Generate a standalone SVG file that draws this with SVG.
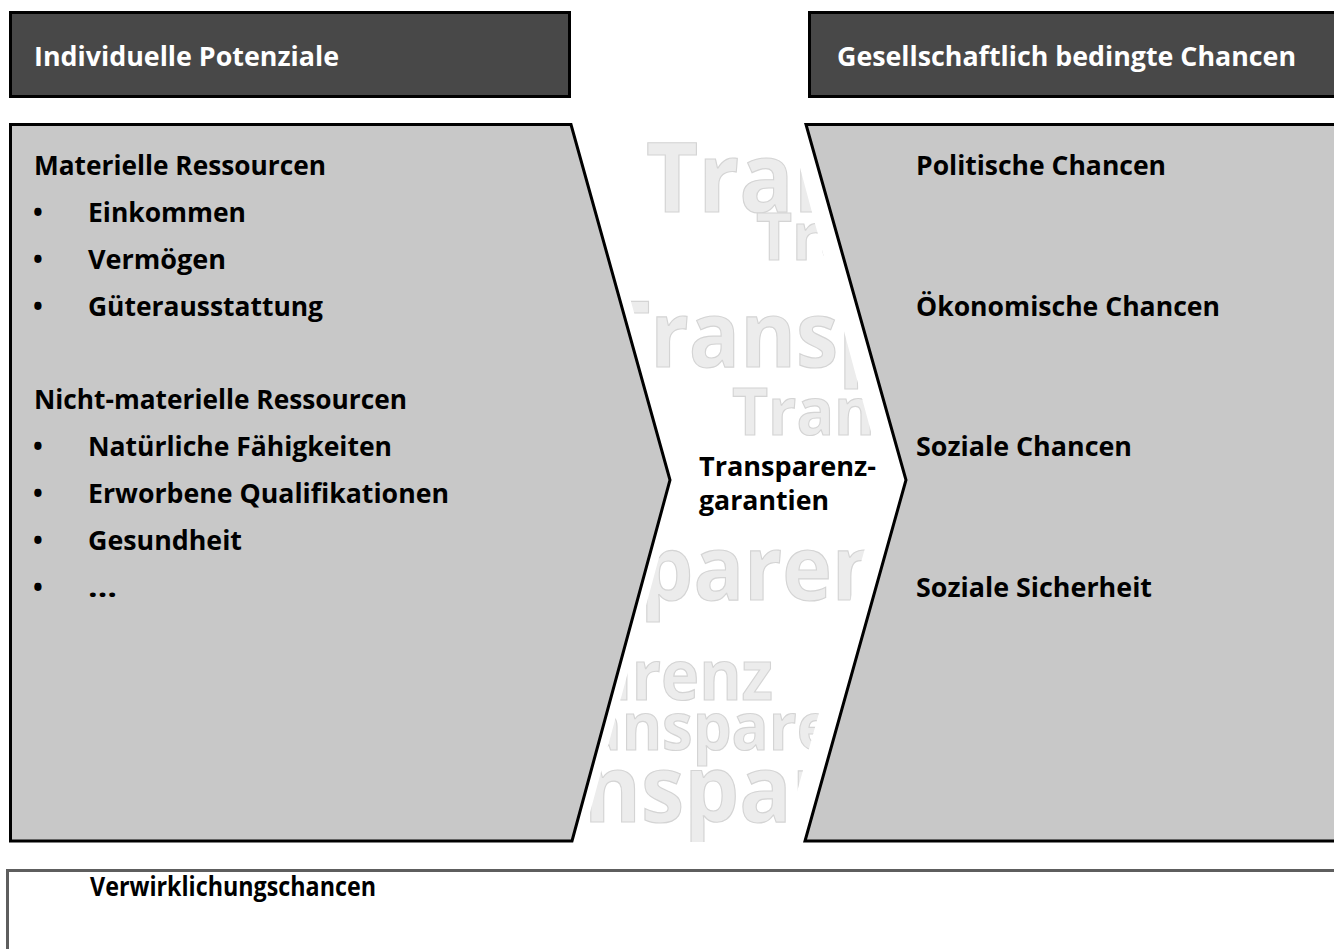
<svg xmlns="http://www.w3.org/2000/svg" width="1334" height="949" viewBox="0 0 1334 949">
<style>
.hdr{fill:#484848;stroke:#000;stroke-width:3}
.panel{fill:#c8c8c8;stroke:#000;stroke-width:3;stroke-linejoin:miter}
.t{font-family:"Open Sans","Noto Sans","Liberation Sans",sans-serif;font-weight:700;font-size:26px;fill:#000}
.w{fill:#fff}
.wm{font-family:"Open Sans","Noto Sans","Liberation Sans",sans-serif;font-weight:700;fill:#ececec;stroke:#d4d4d4;stroke-width:1.2}
</style>
<defs>
<clipPath id="wmclip">
<polygon points="582,123 788,123 884,480 783,842 582,842 680,480"/>
</clipPath>
</defs>
<rect width="1334" height="949" fill="#fff"/>
<g id="header-left">
<rect class="hdr" x="10.5" y="12.5" width="559" height="84"/>
<text class="t w" x="34" y="66" textLength="305" lengthAdjust="spacingAndGlyphs">Individuelle Potenziale</text>
</g>
<g id="header-right">
<rect class="hdr" x="809.5" y="12.5" width="600" height="84"/>
<text class="t w" x="837" y="66" textLength="459" lengthAdjust="spacingAndGlyphs">Gesellschaftlich bedingte Chancen</text>
</g>
<g id="watermark" clip-path="url(#wmclip)">
<text class="wm" font-size="97" x="646" y="212" textLength="207" lengthAdjust="spacingAndGlyphs">Tran</text>
<text class="wm" font-size="67" x="756" y="260" textLength="102" lengthAdjust="spacingAndGlyphs">Tra</text>
<text class="wm" font-size="91" x="601" y="367" textLength="291" lengthAdjust="spacingAndGlyphs">Transp</text>
<text class="wm" font-size="67" x="732" y="435" textLength="143" lengthAdjust="spacingAndGlyphs">Tran</text>
<text class="wm" font-size="90" x="406" y="600" textLength="481" lengthAdjust="spacingAndGlyphs">Transparen</text>
<text class="wm" font-size="69" x="372" y="700" textLength="401" lengthAdjust="spacingAndGlyphs">Transparenz</text>
<text class="wm" font-size="66" x="521" y="750" textLength="312" lengthAdjust="spacingAndGlyphs">Transpare</text>
<text class="wm" font-size="93" x="442" y="822" textLength="389" lengthAdjust="spacingAndGlyphs">Transpar</text>
</g>
<g id="panel-left">
<polygon class="panel" points="10.5,124.5 571,124.5 670,480 572,841 10.5,841"/>
<text class="t" x="34" y="175" textLength="292" lengthAdjust="spacingAndGlyphs">Materielle Ressourcen</text>
<text class="t" x="33" y="222">•</text>
<text class="t" x="88" y="222" textLength="158" lengthAdjust="spacingAndGlyphs">Einkommen</text>
<text class="t" x="33" y="269">•</text>
<text class="t" x="88" y="269" textLength="138" lengthAdjust="spacingAndGlyphs">Vermögen</text>
<text class="t" x="33" y="316">•</text>
<text class="t" x="88" y="316" textLength="235" lengthAdjust="spacingAndGlyphs">Güterausstattung</text>
<text class="t" x="34" y="409" textLength="373" lengthAdjust="spacingAndGlyphs">Nicht-materielle Ressourcen</text>
<text class="t" x="33" y="456">•</text>
<text class="t" x="88" y="456" textLength="304" lengthAdjust="spacingAndGlyphs">Natürliche Fähigkeiten</text>
<text class="t" x="33" y="503">•</text>
<text class="t" x="88" y="503" textLength="361" lengthAdjust="spacingAndGlyphs">Erworbene Qualifikationen</text>
<text class="t" x="33" y="550">•</text>
<text class="t" x="88" y="550" textLength="154" lengthAdjust="spacingAndGlyphs">Gesundheit</text>
<text class="t" x="33" y="597">•</text>
<text class="t" x="88" y="597" textLength="29" lengthAdjust="spacingAndGlyphs">…</text>
</g>
<g id="panel-right">
<polygon class="panel" points="806,124.5 1340,124.5 1340,841 805,841 906,480"/>
<text class="t" x="916" y="175" textLength="250" lengthAdjust="spacingAndGlyphs">Politische Chancen</text>
<text class="t" x="916" y="316" textLength="304" lengthAdjust="spacingAndGlyphs">Ökonomische Chancen</text>
<text class="t" x="916" y="456" textLength="216" lengthAdjust="spacingAndGlyphs">Soziale Chancen</text>
<text class="t" x="916" y="597" textLength="236" lengthAdjust="spacingAndGlyphs">Soziale Sicherheit</text>
</g>
<g id="center-label">
<text class="t" x="699" y="476" textLength="177" lengthAdjust="spacingAndGlyphs">Transparenz-</text>
<text class="t" x="699" y="510" textLength="130" lengthAdjust="spacingAndGlyphs">garantien</text>
</g>
<g id="bottom-box">
<rect x="7.5" y="870.5" width="1340" height="100" fill="#fff" stroke="#5e5e5e" stroke-width="3"/>
<text class="t" x="90" y="896" textLength="286" lengthAdjust="spacingAndGlyphs">Verwirklichungschancen</text>
</g>
<g id="connectors"/>
</svg>
